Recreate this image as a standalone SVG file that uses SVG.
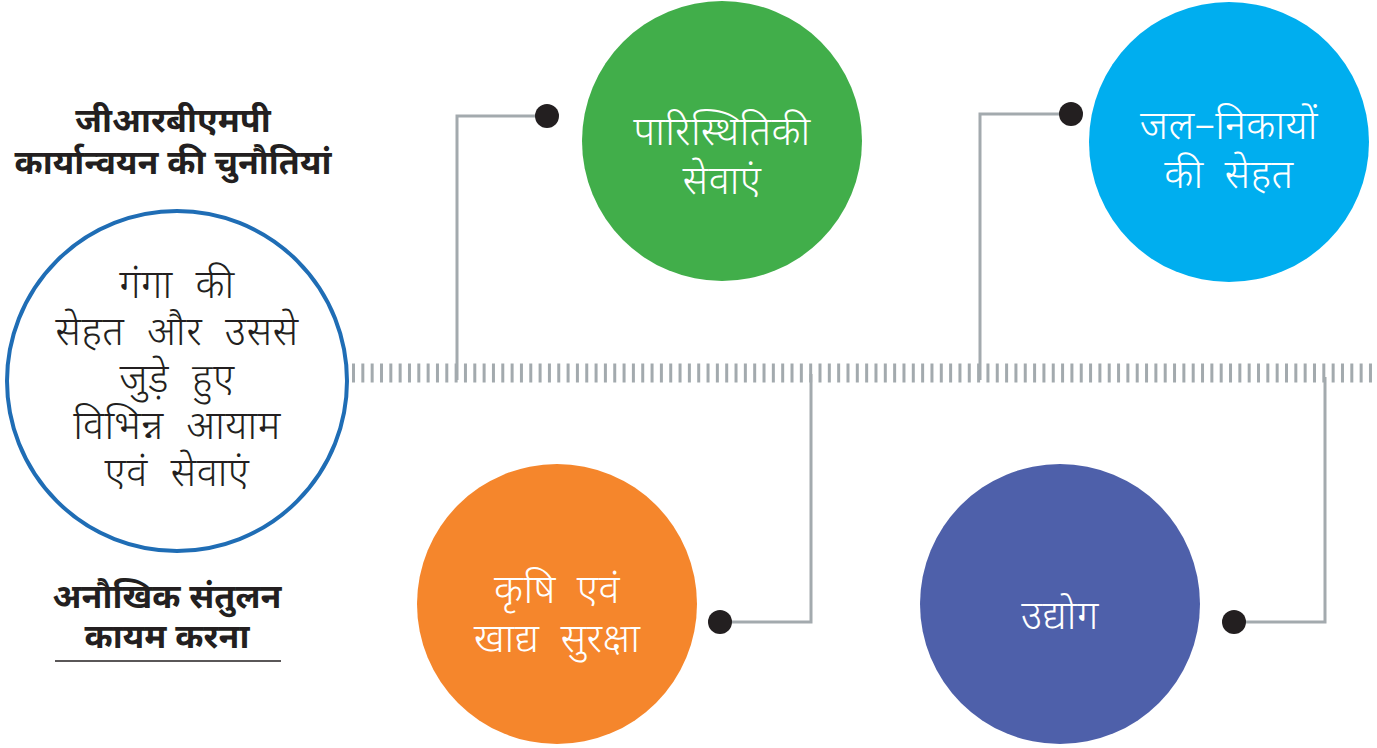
<svg xmlns="http://www.w3.org/2000/svg" width="1377" height="748" viewBox="0 0 1377 748">
<style>
.t{font-family:"Noto Sans Devanagari","Noto Sans","Lohit Devanagari","Noto Sans CJK SC",sans-serif;text-anchor:middle}
.w{fill:#ffffff;font-size:40px;font-weight:300;word-spacing:10px;letter-spacing:0.5px}
.d{fill:#231f20;font-size:40px;font-weight:300;word-spacing:12px;letter-spacing:0.5px}
.h{fill:#231f20;font-size:34px;font-weight:700}
.c{fill:none;stroke:#a3aaae;stroke-width:3}
</style>
<rect width="1377" height="748" fill="#ffffff"/>
<g id="connectors">
<line x1="352" y1="373" x2="1377" y2="373" stroke="#a3aaae" stroke-width="19" stroke-dasharray="3 6.33"/>
<polyline class="c" points="457,380 457,116 547,116"/>
<polyline class="c" points="980,380 980,114 1070,114"/>
<polyline class="c" points="811,374 811,622 720,622"/>
<polyline class="c" points="1325,377 1325,622 1234,622"/>
<circle cx="547" cy="116" r="12" fill="#231f20"/>
<circle cx="1071" cy="114" r="12" fill="#231f20"/>
<circle cx="720" cy="622" r="12" fill="#231f20"/>
<circle cx="1234" cy="622" r="12" fill="#231f20"/>
</g>
<g id="title">
<text class="t h" x="173" y="132">जीआरबीएमपी</text>
<text class="t h" x="173" y="174">कार्यान्वयन की चुनौतियां</text>
</g>
<g id="balance">
<text class="t h" x="167" y="608">अनौखिक संतुलन</text>
<text class="t h" x="167" y="648">कायम करना</text>
<line x1="55" y1="661" x2="281" y2="661" stroke="#231f20" stroke-width="1.5"/>
</g>
<g id="ganga">
<circle cx="177" cy="381" r="170" fill="#ffffff" stroke="#1f6db5" stroke-width="4"/>
<text class="t d" x="177" y="298">गंगा की</text>
<text class="t d" x="177" y="345">सेहत और उससे</text>
<text class="t d" x="177" y="392">जुड़े हुए</text>
<text class="t d" x="177" y="439">विभिन्न आयाम</text>
<text class="t d" x="177" y="486">एवं सेवाएं</text>
</g>
<g id="eco">
<circle cx="722" cy="141" r="140" fill="#41ae4a"/>
<text class="t w" x="722" y="145">पारिस्थितिकी</text>
<text class="t w" x="722" y="194">सेवाएं</text>
</g>
<g id="water">
<circle cx="1229" cy="142" r="140" fill="#00aeef"/>
<text class="t w" x="1229" y="139">जल–निकायों</text>
<text class="t w" x="1229" y="188">की सेहत</text>
</g>
<g id="agri">
<circle cx="557" cy="604" r="140" fill="#f5862c"/>
<text class="t w" x="557" y="603">कृषि एवं</text>
<text class="t w" x="557" y="652">खाद्य सुरक्षा</text>
</g>
<g id="industry">
<circle cx="1060" cy="604" r="140" fill="#4e60aa"/>
<text class="t w" x="1060" y="629">उद्योग</text>
</g>
</svg>
